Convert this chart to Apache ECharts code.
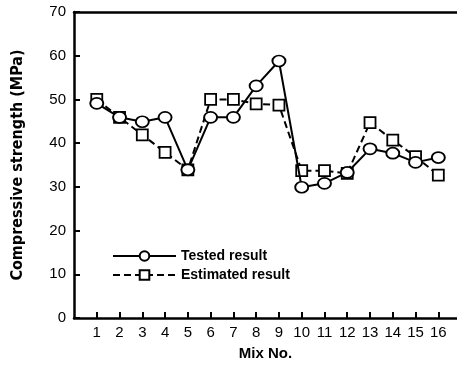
<!DOCTYPE html>
<html>
<head>
<meta charset="utf-8">
<script src="https://cdn.jsdelivr.net/npm/echarts@6/dist/echarts.min.js"></script>
<style>
html,body{margin:0;padding:0;background:#fff;}
#c{width:457px;height:370px;}
</style>
</head>
<body>
<div id="c"></div>
<script>
var mixNo = [1,2,3,4,5,6,7,8,9,10,11,12,13,14,15,16];
var tested = [49.1,45.9,44.9,45.9,33.9,45.9,45.9,53.1,58.8,29.9,30.8,33.3,38.7,37.7,35.6,36.7];
var estimated = [50.0,45.9,41.9,37.9,33.9,50.0,50.0,49.0,48.7,33.7,33.7,33.1,44.7,40.7,36.9,32.7];
var seriesNames = ['Tested result','Estimated result'];

function pairs(vals){ return mixNo.map(function(x,i){ return [x, vals[i]]; }); }

var chart = echarts.init(document.getElementById('c'), null, {renderer:'canvas'});
var axisFont = 'Liberation Sans, Arial, sans-serif';
chart.setOption({
  animation:false,
  backgroundColor:'#fff',
  grid:{left:74, right:0, top:12, bottom:52},
  legend:{
    orient:'vertical', left:112, top:249, padding:0, itemWidth:63, itemHeight:12, itemGap:5,
    textStyle:{fontFamily:axisFont, fontWeight:'bold', fontSize:14, color:'#000'},
    data:seriesNames
  },
  xAxis:[{
    type:'value', min:0, max:16.82, interval:1, position:'bottom',
    axisLine:{show:true, lineStyle:{color:'#000', width:2.5}},
    axisTick:{show:true, inside:true, length:6, lineStyle:{color:'#000', width:2}},
    axisLabel:{color:'#000', fontFamily:axisFont, fontSize:15, margin:7, showMinLabel:false, showMaxLabel:false,
      formatter:function(v){ return (v>=1 && v<=16) ? String(v) : ''; }},
    splitLine:{show:false},
    name:'Mix No.', nameLocation:'middle', nameGap:28,
    nameTextStyle:{color:'#000', fontFamily:axisFont, fontWeight:'bold', fontSize:15}
  },{
    type:'value', min:0, max:16.82, position:'top',
    axisLine:{show:true, lineStyle:{color:'#000', width:2.5}},
    axisTick:{show:false}, axisLabel:{show:false}, splitLine:{show:false}
  }],
  yAxis:{
    type:'value', min:0, max:70, interval:10,
    axisLine:{show:true, lineStyle:{color:'#000', width:2.5}},
    axisTick:{show:true, inside:true, length:6, lineStyle:{color:'#000', width:2}},
    axisLabel:{color:'#000', fontFamily:axisFont, fontSize:15, margin:8},
    splitLine:{show:false},
    name:'Compressive strength (MPa)', nameLocation:'middle', nameGap:48, nameRotate:90,
    nameTextStyle:{color:'#000', fontFamily:'DejaVu Sans Condensed, Liberation Sans, sans-serif', fontWeight:'bold', fontSize:16}
  },
  series:[{
    name:seriesNames[0], type:'line', data:pairs(tested),
    symbol:'circle', symbolSize:[13,11], showAllSymbol:true,
    lineStyle:{color:'#000', width:2},
    itemStyle:{color:'#fff', borderColor:'#000', borderWidth:1.8},
    z:3
  },{
    name:seriesNames[1], type:'line', data:pairs(estimated),
    symbol:'rect', symbolSize:11, showAllSymbol:true,
    lineStyle:{color:'#000', width:2, type:[7,4]},
    itemStyle:{color:'#fff', borderColor:'#000', borderWidth:1.8},
    z:2
  }]
});
</script>
</body>
</html>
